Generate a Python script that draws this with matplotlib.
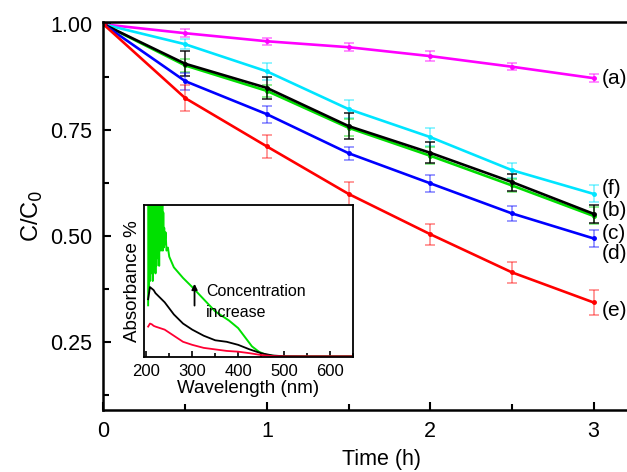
import matplotlib.pyplot as plt
from matplotlib.ticker import MultipleLocator

plt.rcParams['font.family'] = ['Liberation Sans', 'DejaVu Sans']

# degradation kinetics, C/C0 vs time
time_h = [0, 0.5, 1, 1.5, 2, 2.5, 3]
curve_a = [1.0, 0.979, 0.960, 0.946, 0.925, 0.900, 0.873]
curve_f = [1.0, 0.953, 0.889, 0.800, 0.734, 0.656, 0.600]
curve_b = [1.0, 0.907, 0.850, 0.760, 0.697, 0.628, 0.553]
curve_c = [1.0, 0.903, 0.843, 0.756, 0.690, 0.620, 0.548]
curve_d = [1.0, 0.866, 0.788, 0.696, 0.625, 0.554, 0.495]
curve_e = [1.0, 0.826, 0.712, 0.600, 0.505, 0.415, 0.344]

err_a = [0, 0.010, 0.008, 0.010, 0.012, 0.008, 0.010]
err_f = [0, 0.012, 0.020, 0.022, 0.022, 0.018, 0.020]
err_b = [0, 0.030, 0.025, 0.030, 0.025, 0.020, 0.022]
err_c = [0, 0.015, 0.015, 0.020, 0.020, 0.015, 0.020]
err_d = [0, 0.020, 0.020, 0.015, 0.020, 0.018, 0.020]
err_e = [0, 0.030, 0.028, 0.028, 0.025, 0.025, 0.030]

labels = ['(a)', '(f)', '(b)', '(c)', '(d)', '(e)']
label_y = [0.873, 0.613, 0.561, 0.507, 0.460, 0.325]

# inset: absorbance spectra
wl_green = [204, 205, 206, 207, 208, 209, 210, 211, 212, 213, 214, 215, 216,
            217, 218, 219, 220, 221, 222, 223, 224, 225, 226, 227, 228, 229,
            230, 231, 232, 233, 234, 235, 236, 237, 238, 239, 240, 242, 244,
            247, 250, 260, 280, 300, 325, 350, 380, 400, 415, 430, 445, 460,
            480, 500, 550, 600, 650]
abs_green = [0.34, 1.20, 0.45, 1.25, 0.50, 1.30, 0.55, 1.25, 0.60, 1.30, 0.50,
             1.20, 0.70, 1.10, 0.80, 0.95, 0.55, 1.20, 0.60, 1.30, 0.65, 1.25,
             0.70, 1.30, 0.60, 1.25, 0.75, 1.30, 0.70, 1.20, 0.80, 1.10, 0.70,
             0.95, 0.72, 0.85, 0.74, 0.82, 0.70, 0.72, 0.66, 0.59,
             0.52, 0.46, 0.38, 0.30, 0.24, 0.19, 0.13, 0.07, 0.035, 0.015,
             0.006, 0.004, 0.004, 0.004, 0.004]
wl_black = [204, 208, 212, 216, 220, 230, 240, 260, 280, 300, 325, 350, 375,
            400, 425, 450, 475, 500, 550, 600, 650]
abs_black = [0.38, 0.46, 0.45, 0.44, 0.42, 0.39, 0.36, 0.28, 0.22, 0.18, 0.14,
             0.11, 0.10, 0.08, 0.05, 0.025, 0.01, 0.005, 0.004, 0.004, 0.004]
wl_red = [204, 208, 212, 216, 220, 230, 240, 260, 280, 300, 325, 350, 375,
          400, 425, 450, 475, 500, 550, 600, 650]
abs_red = [0.20, 0.22, 0.215, 0.205, 0.20, 0.19, 0.18, 0.14, 0.10, 0.08, 0.06,
           0.05, 0.04, 0.035, 0.025, 0.013, 0.006, 0.004, 0.004, 0.004, 0.004]

fig = plt.figure(figsize=(6.27, 4.72), dpi=100)
ax = fig.add_axes([0.165, 0.131, 0.886, 0.822])

series = [
    (curve_a, err_a, '#ff00ff', 0.55),
    (curve_f, err_f, '#00e5ff', 0.55),
    (curve_c, err_c, '#00dd00', 0.55),
    (curve_b, err_b, '#000000', 0.9),
    (curve_d, err_d, '#0000ff', 0.5),
    (curve_e, err_e, '#ff0000', 0.5),
]
for vals, err, col, ealpha in series:
    ax.plot(time_h, vals, color=col, lw=1.9, marker='o', ms=2.5)
    bars = ax.errorbar(time_h, vals, yerr=err, fmt='none', ecolor=col,
                       capsize=3.5, elinewidth=1.1, capthick=1.1)
    for art in bars.lines[1] + bars.lines[2]:
        art.set_alpha(ealpha)

for lab, y in zip(labels, label_y):
    ax.text(3.05, y, lab, fontsize=15, va='center', ha='left', clip_on=False)

ax.set_xlim(0, 3.4)
ax.set_ylim(0.09, 1.005)
ax.xaxis.set_major_locator(MultipleLocator(1))
ax.xaxis.set_minor_locator(MultipleLocator(0.5))
ax.yaxis.set_major_locator(MultipleLocator(0.25))
ax.yaxis.set_minor_locator(MultipleLocator(0.125))
ax.tick_params(which='both', direction='in', width=1.5, labelsize=15.5)
ax.tick_params(which='major', length=6, pad=8)
ax.tick_params(which='minor', length=4)
ax.tick_params(top=False, right=False, which='both')
for sp in ax.spines.values():
    sp.set_linewidth(1.8)
ax.set_xlabel('Time (h)', fontsize=15.5, labelpad=5)
ax.set_ylabel('C/C$_0$', fontsize=17, labelpad=4)

# inset spectra
ins = fig.add_axes([144 / 627, 1 - 357 / 472, 209 / 627, 152 / 472])
ins.plot(wl_green, abs_green, color='#00e000', lw=1.4)
ins.plot(wl_black, abs_black, color='#000000', lw=1.3)
ins.plot(wl_red, abs_red, color='#ff0033', lw=1.3)
ins.set_xlim(195, 650)
ins.set_ylim(0, 1)
ins.set_yticks([])
ins.xaxis.set_major_locator(MultipleLocator(100))
ins.xaxis.set_minor_locator(MultipleLocator(50))
ins.tick_params(which='both', direction='in', labelsize=12, width=1.2)
ins.tick_params(which='major', length=4, pad=5)
ins.tick_params(which='minor', length=3)
for sp in ins.spines.values():
    sp.set_linewidth(1.3)
ins.set_xlabel('Wavelength (nm)', fontsize=13.5, labelpad=1)
ins.set_ylabel('Absorbance %', fontsize=13.5, labelpad=2)
ins.annotate('', xy=(305, 0.50), xytext=(305, 0.32),
             arrowprops=dict(arrowstyle='-|>', color='black', lw=1.3,
                             mutation_scale=8))
ins.text(330, 0.43, 'Concentration', fontsize=11.5, va='center')
ins.text(330, 0.29, 'increase', fontsize=11.5, va='center')

fig.savefig('out.png', dpi=100)
